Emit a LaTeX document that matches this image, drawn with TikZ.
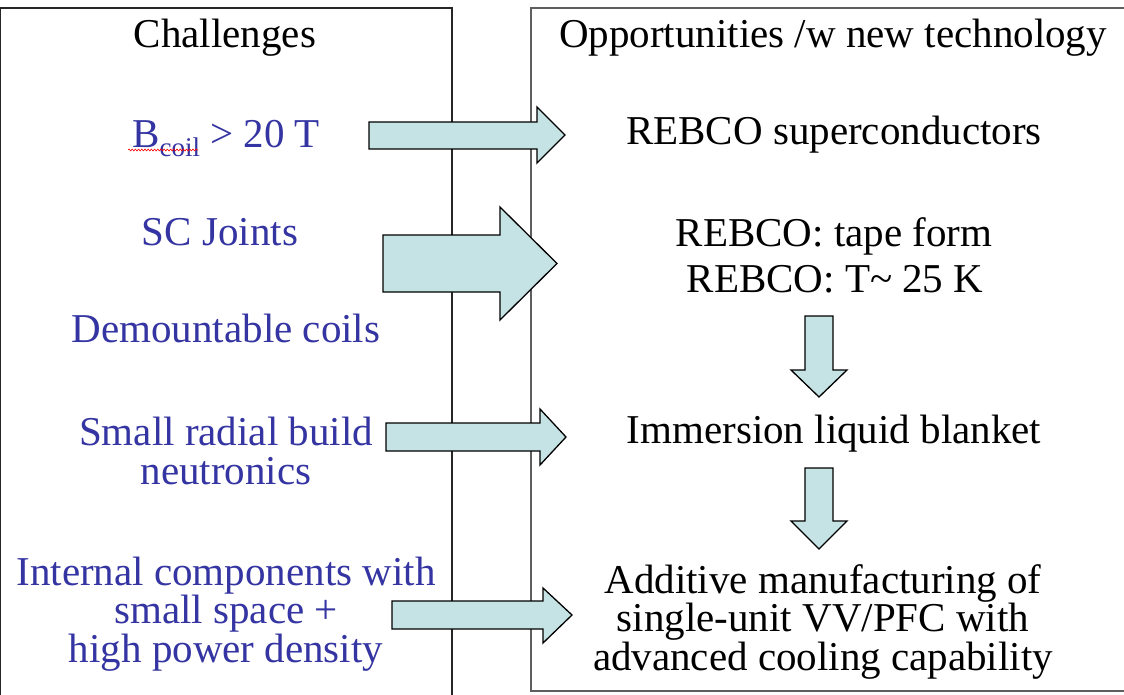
\documentclass[tikz,border=0pt]{standalone}
\usepackage{fontspec}
\setmainfont{Liberation Serif}
\usetikzlibrary{decorations.pathmorphing}
\definecolor{chalblue}{RGB}{52,52,162}
\definecolor{arrowfill}{RGB}{197,226,228}
\definecolor{framegray}{RGB}{95,95,95}

\begin{document}
\begin{tikzpicture}[x=1pt,y=-1pt,
  txt/.style={font=\fontsize{41}{38.5}\selectfont, inner sep=0pt, anchor=base, align=center},
  chal/.style={txt, text=chalblue},
  opp/.style={txt, text=black},
  fatarrow/.style={draw=black, line width=1.3pt, fill=arrowfill, line join=miter},
  leftframe/.style={draw=black!85, line width=1.3pt},
  rightframe/.style={draw=framegray, line width=1.6pt}]

\useasboundingbox (0,0) rectangle (1124,695);
\fill[white] (0,0) rectangle (1124,695);

% column frames
\draw[leftframe] (0.7,700) -- (0.7,8) -- (452,8) -- (452,700);
\draw[rightframe] (1130,691) -- (531,691) -- (531,8) -- (1130,8);

% column headings
\node[opp] (hdrL) at (225,48) {Challenges};
\node[opp] (hdrR) at (833,48) {Opportunities /w new technology};

% challenges (multi-line nodes are placed by the baseline of their last line)
\node[chal, anchor=base west] (bcoil) at (132,148)
  {B\raisebox{-9pt}{\fontsize{27}{27}\selectfont coil} > 20 T};
\draw[red, line width=0.6pt, decorate,
      decoration={snake, amplitude=0.9pt, segment length=3.2pt}]
  (128,150) -- (198,150);
\node[chal] (joints) at (220,245) {SC Joints};
\node[chal] (demount) at (226,342) {Demountable coils};
\node[chal] (radial) at (226,484) {Small radial build\\neutronics};
\node[chal] (internal) at (226,662) {Internal components with\\small space +\\high power density};

% opportunities
\node[opp] (rebco) at (834,145) {REBCO superconductors};
\node[opp] (tape) at (834,247) {REBCO: tape form};
\node[opp] (temp) at (835,292) {REBCO: T\textasciitilde{} 25 K};
\node[opp] (blanket) at (834,443) {Immersion liquid blanket};
\node[opp] (additive) at (823,670) {Additive manufacturing of\\single-unit VV/PFC with\\advanced cooling capability};

% block arrows from challenges to opportunities
\draw[fatarrow] (369,122) -- (537,122) -- (537,107) -- (565,135) -- (537,163) -- (537,149) -- (369,149) -- cycle;
\draw[fatarrow] (383,235) -- (500,235) -- (500,207) -- (557,263.5) -- (500,320) -- (500,292) -- (383,292) -- cycle;
\draw[fatarrow] (386,423) -- (540,423) -- (540,409) -- (566,437) -- (540,465) -- (540,451) -- (386,451) -- cycle;
\draw[fatarrow] (392,601) -- (543,601) -- (543,588) -- (572,615) -- (543,643) -- (543,629) -- (392,629) -- cycle;

% block arrows down the opportunities column
\draw[fatarrow] (805,316) -- (833,316) -- (833,370) -- (847,370) -- (819,397) -- (791,370) -- (805,370) -- cycle;
\draw[fatarrow] (805,468) -- (833,468) -- (833,521) -- (847,521) -- (819,549) -- (791,521) -- (805,521) -- cycle;
\end{tikzpicture}
\end{document}
